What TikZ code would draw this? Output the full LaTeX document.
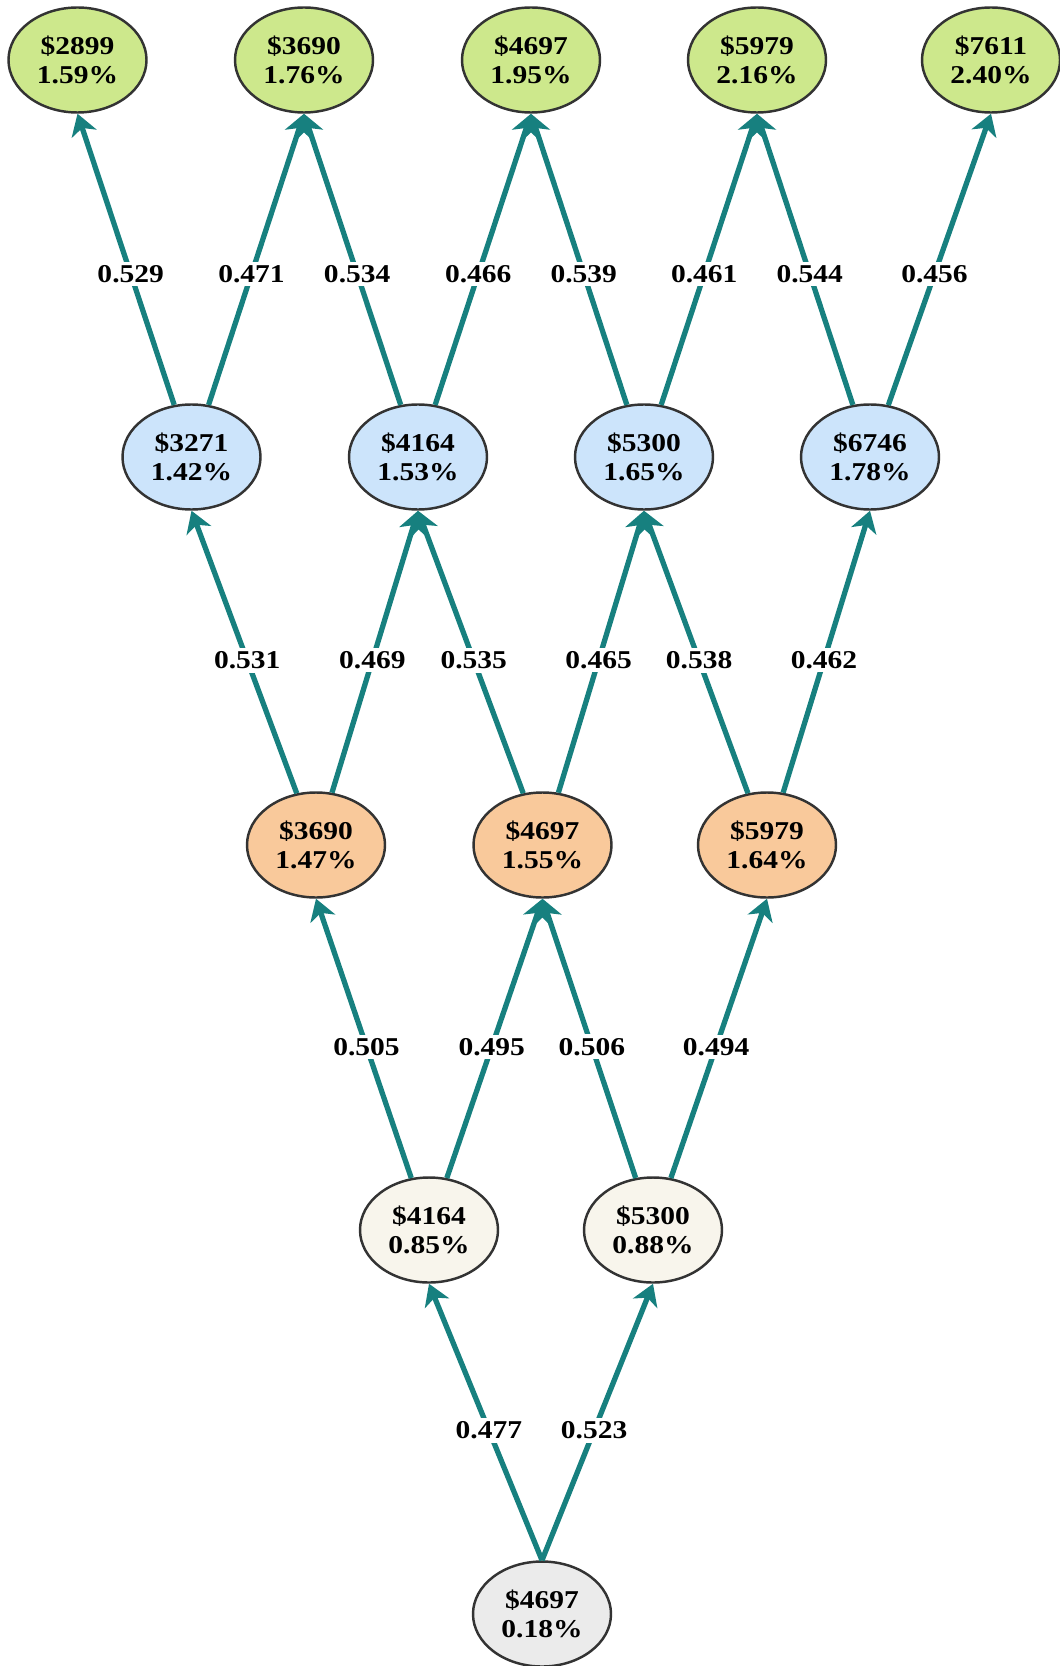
\documentclass[tikz,border=0pt]{standalone}
\usepackage{fontspec}
\setmainfont{Liberation Serif}
\usepackage{graphicx}
\usetikzlibrary{shapes.geometric, arrows.meta}

\definecolor{leafgreen}{HTML}{CDE88C}
\definecolor{nodeblue}{HTML}{CCE4FB}
\definecolor{nodeorange}{HTML}{F9C99B}
\definecolor{nodecream}{HTML}{F8F5EC}
\definecolor{nodegrey}{HTML}{EBEBEB}
\definecolor{edgeteal}{HTML}{17807F}

\newcommand{\wide}[1]{\scalebox{1.15}[1]{#1}}
\newcommand{\pv}[2]{\wide{\$#1}\\\wide{#2\%}}

\begin{document}
\begin{tikzpicture}[
    state/.style={draw=black!80, line width=0.7pt, ellipse, minimum width=1.38cm, minimum height=1.05cm, inner sep=0pt, align=center, font=\bfseries\fontsize{7.3}{8.1}\selectfont},
    greenN/.style={state, fill=leafgreen},
    blueN/.style={state, fill=nodeblue},
    orangeN/.style={state, fill=nodeorange},
    creamN/.style={state, fill=nodecream},
    greyN/.style={state, fill=nodegrey},
    link/.style={draw=edgeteal, line width=1.5pt, -{Stealth[length=2.1mm, width=2.6mm, inset=0.6mm]}},
    prob/.style={fill=white, inner sep=1pt, pos=0.47, font=\bfseries\fontsize{7.3}{8}\selectfont}
]
\useasboundingbox (0,0) rectangle (10.59,-16.66);

% Nodes
\node[greenN] (G0) at (0.775, -0.60) {\pv{2899}{1.59}};
\node[greenN] (G1) at (3.04, -0.60) {\pv{3690}{1.76}};
\node[greenN] (G2) at (5.31, -0.60) {\pv{4697}{1.95}};
\node[greenN] (G3) at (7.57, -0.60) {\pv{5979}{2.16}};
\node[greenN] (G4) at (9.91, -0.60) {\pv{7611}{2.40}};

\node[blueN] (B0) at (1.915, -4.57) {\pv{3271}{1.42}};
\node[blueN] (B1) at (4.18, -4.57) {\pv{4164}{1.53}};
\node[blueN] (B2) at (6.44, -4.57) {\pv{5300}{1.65}};
\node[blueN] (B3) at (8.70, -4.57) {\pv{6746}{1.78}};

\node[orangeN] (O0) at (3.16, -8.45) {\pv{3690}{1.47}};
\node[orangeN] (O1) at (5.425, -8.45) {\pv{4697}{1.55}};
\node[orangeN] (O2) at (7.67, -8.45) {\pv{5979}{1.64}};

\node[creamN] (C0) at (4.29, -12.30) {\pv{4164}{0.85}};
\node[creamN] (C1) at (6.53, -12.30) {\pv{5300}{0.88}};

\node[greyN] (R) at (5.42, -16.14) {\pv{4697}{0.18}};

% Collegamenti
\draw[link] (R.north) -- node[prob] {\wide{0.477}} (C0.south);
\draw[link] (R.north) -- node[prob] {\wide{0.523}} (C1.south);

\draw[link] (C0) -- node[prob] {\wide{0.505}} (O0.south);
\draw[link] (C0) -- node[prob] {\wide{0.495}} (O1.south);
\draw[link] (C1) -- node[prob] {\wide{0.506}} (O1.south);
\draw[link] (C1) -- node[prob] {\wide{0.494}} (O2.south);

\draw[link] (O0) -- node[prob] {\wide{0.531}} (B0.south);
\draw[link] (O0) -- node[prob] {\wide{0.469}} (B1.south);
\draw[link] (O1) -- node[prob] {\wide{0.535}} (B1.south);
\draw[link] (O1) -- node[prob] {\wide{0.465}} (B2.south);
\draw[link] (O2) -- node[prob] {\wide{0.538}} (B2.south);
\draw[link] (O2) -- node[prob] {\wide{0.462}} (B3.south);

\draw[link] (B0) -- node[prob, pos=0.45] {\wide{0.529}} (G0.south);
\draw[link] (B0) -- node[prob, pos=0.45] {\wide{0.471}} (G1.south);
\draw[link] (B1) -- node[prob, pos=0.45] {\wide{0.534}} (G1.south);
\draw[link] (B1) -- node[prob, pos=0.45] {\wide{0.466}} (G2.south);
\draw[link] (B2) -- node[prob, pos=0.45] {\wide{0.539}} (G2.south);
\draw[link] (B2) -- node[prob, pos=0.45] {\wide{0.461}} (G3.south);
\draw[link] (B3) -- node[prob, pos=0.45] {\wide{0.544}} (G3.south);
\draw[link] (B3) -- node[prob, pos=0.45] {\wide{0.456}} (G4.south);

\end{tikzpicture}
\end{document}
